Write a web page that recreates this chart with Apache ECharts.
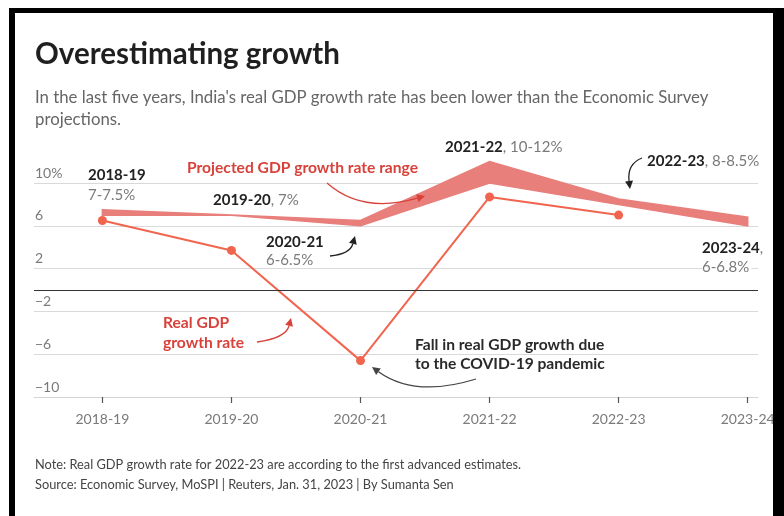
<!DOCTYPE html>
<html>
<head>
<meta charset="utf-8">
<script src="https://cdn.jsdelivr.net/npm/echarts@6/dist/echarts.min.js"></script>
<style>
  html, body { margin: 0; padding: 0; background: #fff; }
  #chart { width: 784px; height: 516px; }
</style>
</head>
<body>
<div id="chart"></div>
<script>
// Fiscal years on the x axis
const years = ['2018-19', '2019-20', '2020-21', '2021-22', '2022-23', '2023-24'];
// Actual real GDP growth, % (2022-23 is the first advance estimate)
const realGrowth = [6.5, 3.7, -6.6, 8.7, 7.0];
// Economic Survey projection range, %
const projLow = [7, 7, 6, 10, 8, 6];
const projHigh = [7.5, 7, 6.5, 12, 8.5, 6.8];
// Value axis ticks
const yMin = -10, yMax = 10, yStep = 4;

const FONT = 'Lato, "Noto Sans", sans-serif';
const BAND = '#e87f7b';
const LINE = '#f1654f';
const RED_TEXT = '#d8423b';
const INK = '#222';
const GREY = '#7a7a7a';

const chart = echarts.init(document.getElementById('chart'), null, { renderer: 'canvas' });

const yearIdx = years.map((_, i) => i);

// Curved annotation arrow: quadratic curve plus a filled head at the end
function arrow(x1, y1, cx, cy, x2, y2, color) {
  const ang = Math.atan2(y2 - cy, x2 - cx);
  const L = 8, W = 4;
  const bx = x2 - L * Math.cos(ang), by = y2 - L * Math.sin(ang);
  const px = -Math.sin(ang) * W, py = Math.cos(ang) * W;
  return [
    { type: 'bezierCurve', shape: { x1, y1, x2: bx, y2: by, cpx1: cx, cpy1: cy },
      style: { stroke: color, lineWidth: 1.3, fill: null }, z: 100 },
    { type: 'polygon', shape: { points: [[x2, y2], [bx + px, by + py], [bx - px, by - py]] },
      style: { fill: color }, z: 100 }
  ];
}

function label(x, y, text, rich, extra) {
  return {
    type: 'text', x, y, z: 100,
    style: Object.assign({ text, rich, font: '14px ' + FONT, fill: INK, verticalAlign: 'middle', align: 'left' }, extra || {})
  };
}

const richYear = {
  b: { fontFamily: FONT, fontWeight: 'bold', fontSize: 15, fill: INK, color: INK },
  g: { fontFamily: FONT, fontSize: 15, fill: GREY, color: GREY }
};

const boldNote = size => 'bold ' + size + 'px ' + FONT;

const graphics = [
  // title & subtitle
  { type: 'text', x: 35, y: 54, style: { text: 'Overestimating growth', font: 'bold 29.5px ' + FONT, fill: '#1f1f1f', verticalAlign: 'middle' } },
  { type: 'text', x: 35, y: 98, style: { text: "In the last five years, India's real GDP growth rate has been lower than the Economic Survey", font: '16.8px ' + FONT, fill: '#666', verticalAlign: 'middle' } },
  { type: 'text', x: 35, y: 120, style: { text: 'projections.', font: '16.8px ' + FONT, fill: '#666', verticalAlign: 'middle' } },

  // annotations
  label(88, 175, '{b|2018-19}', richYear),
  label(88, 195, '{g|7-7.5%}', richYear),
  label(213, 200, '{b|2019-20}{g|, 7%}', richYear),
  label(266, 242, '{b|2020-21}', richYear),
  label(266, 260, '{g|6-6.5%}', richYear),
  label(445, 147, '{b|2021-22}{g|, 10-12%}', richYear),
  label(647, 161, '{b|2022-23}{g|, 8-8.5%}', richYear),
  label(702, 248, '{b|2023-24}{g|,}', richYear),
  label(702, 267, '{g|6-6.8%}', richYear, { backgroundColor: '#fff', padding: [0, 2, 0, 0] }),
  { type: 'text', x: 187, y: 168, z: 100, style: { text: 'Projected GDP growth rate range', font: boldNote(15.6), fill: RED_TEXT, verticalAlign: 'middle' } },
  { type: 'text', x: 163, y: 323, z: 100, style: { text: 'Real GDP', font: boldNote(15.6), fill: RED_TEXT, verticalAlign: 'middle' } },
  { type: 'text', x: 163, y: 343, z: 100, style: { text: 'growth rate', font: boldNote(15.6), fill: RED_TEXT, verticalAlign: 'middle' } },
  { type: 'text', x: 415, y: 345, z: 100, style: { text: 'Fall in real GDP growth due', font: boldNote(15.6), fill: '#2a2a2a', verticalAlign: 'middle' } },
  { type: 'text', x: 415, y: 364, z: 100, style: { text: 'to the COVID-19 pandemic', font: boldNote(15.6), fill: '#2a2a2a', verticalAlign: 'middle' } },

  ...arrow(327, 183, 362, 214, 425, 196, RED_TEXT),
  ...arrow(330, 256, 350, 254, 355, 236, INK),
  ...arrow(642, 158, 627, 164, 630, 189, INK),
  ...arrow(257, 342, 286, 338, 291, 318, RED_TEXT),
  ...arrow(476, 379, 415, 398, 372, 367, '#444'),

  // footer
  { type: 'text', x: 35, y: 465, style: { text: 'Note: Real GDP growth rate for 2022-23 are according to the first advanced estimates.', font: '12.8px ' + FONT, fill: '#444', verticalAlign: 'middle' } },
  { type: 'text', x: 35, y: 485, style: { text: 'Source: Economic Survey, MoSPI | Reuters, Jan. 31, 2023 | By Sumanta Sen', font: '12.8px ' + FONT, fill: '#444', verticalAlign: 'middle' } },

  // frame
  { type: 'rect', shape: { x: 9, y: 8, width: 775, height: 5 }, style: { fill: '#000' }, z: 200 },
  { type: 'rect', shape: { x: 9, y: 8, width: 6, height: 508 }, style: { fill: '#000' }, z: 200 },
  { type: 'rect', shape: { x: 773, y: 8, width: 11, height: 508 }, style: { fill: '#000' }, z: 200 }
];

// Projection range drawn as one polygon: upper edge left→right, lower edge right→left
function renderBand(params, api) {
  if (params.dataIndex !== 0) return null;
  const upper = projHigh.map((v, i) => api.coord([i, v]));
  const lower = projLow.map((v, i) => api.coord([i, v])).reverse();
  return {
    type: 'polygon',
    shape: { points: upper.concat(lower) },
    style: { fill: BAND, stroke: BAND, lineWidth: 1.6, lineJoin: 'miter' }
  };
}

const option = {
  animation: false,
  backgroundColor: '#fff',
  grid: { left: 34, right: 26, top: 183, bottom: 119, containLabel: false },
  xAxis: {
    type: 'value',
    min: -0.53,
    max: 5.08,
    splitLine: { show: false },
    axisLine: { show: true, onZero: false, lineStyle: { color: '#d4d4d4', width: 1 } },
    axisTick: { show: true, customValues: yearIdx, length: 6, lineStyle: { color: '#555', width: 1.2 } },
    axisLabel: {
      customValues: yearIdx,
      formatter: v => years[Math.round(v)],
      margin: 15,
      color: GREY,
      fontFamily: FONT,
      fontSize: 14
    }
  },
  yAxis: {
    type: 'value',
    min: yMin,
    max: yMax,
    interval: yStep,
    axisLine: { show: false, onZero: false },
    axisTick: { show: false },
    splitLine: { lineStyle: { color: '#d9d9d9', width: 1 } },
    axisLabel: {
      inside: true,
      margin: 1,
      verticalAlign: 'bottom',
      padding: [0, 0, 3, 0],
      color: GREY,
      fontFamily: FONT,
      fontSize: 14,
      formatter: v => v === yMax ? v + '%' : (v < 0 ? '\u2212' + Math.abs(v) : String(v))
    }
  },
  series: [
    {
      name: 'Projection range',
      type: 'custom',
      renderItem: renderBand,
      data: projLow.map((v, i) => [i, v, projHigh[i]]),
      encode: { x: 0, y: [1, 2] },
      clip: false,
      z: 2
    },
    {
      name: 'Real GDP growth',
      type: 'line',
      data: realGrowth.map((v, i) => [i, v]),
      symbol: 'circle',
      symbolSize: 9,
      clip: false,
      itemStyle: { color: LINE },
      lineStyle: { color: LINE, width: 2 },
      z: 3,
      markLine: {
        silent: true,
        symbol: 'none',
        label: { show: false },
        lineStyle: { color: '#333', width: 1, type: 'solid' },
        data: [{ yAxis: 0 }]
      }
    }
  ],
  graphic: graphics
};

chart.setOption(option);
</script>
</body>
</html>
